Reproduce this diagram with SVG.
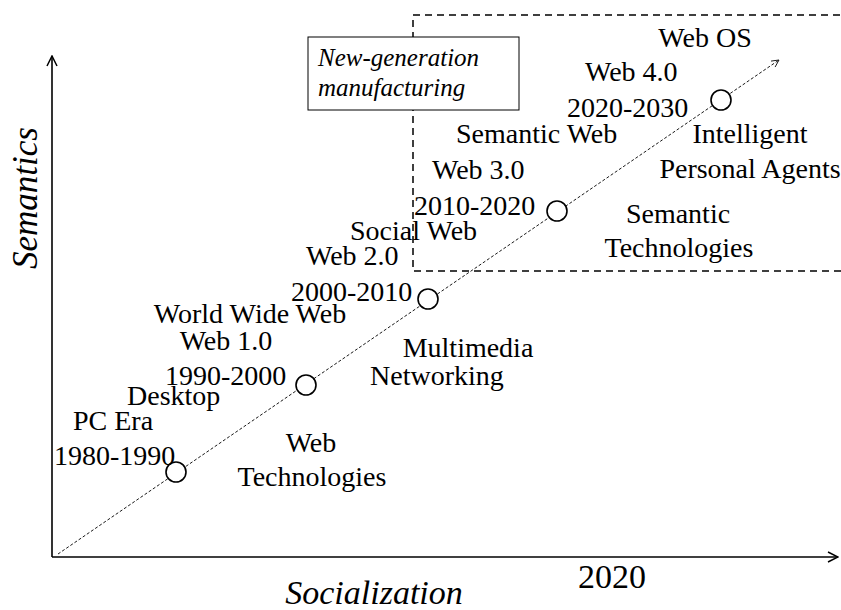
<svg xmlns="http://www.w3.org/2000/svg" width="841" height="610" viewBox="0 0 841 610">
<style>
text{font-family:"Liberation Serif","Times New Roman",serif;fill:#000;}
.t{font-size:28px;}
.it{font-style:italic;}
.ax{stroke:#000;stroke-width:1.6;fill:none;}
.node{fill:#fff;stroke:#000;stroke-width:1.6;}
</style>
<defs>
<marker id="ah" viewBox="0 0 12 12" refX="11" refY="6" markerWidth="12" markerHeight="12" markerUnits="userSpaceOnUse" orient="auto">
<path d="M1,1 L11,6 L1,11" fill="none" stroke="#000" stroke-width="1.5"/>
</marker>
<marker id="ahs" viewBox="0 0 10 10" refX="9" refY="5" markerWidth="9" markerHeight="9" markerUnits="userSpaceOnUse" orient="auto">
<path d="M1,1 L9,5 L1,9" fill="none" stroke="#000" stroke-width="0.9"/>
</marker>
</defs>
<rect width="841" height="610" fill="#fff"/>
<g id="region">
<rect x="413" y="15" width="440" height="256" fill="none" stroke="#000" stroke-width="1.5" stroke-dasharray="7,5"/>
</g>
<g id="axes">
<line class="ax" x1="52" y1="557" x2="52" y2="56" marker-end="url(#ah)"/>
<line class="ax" x1="52" y1="557" x2="838" y2="557" marker-end="url(#ah)"/>
<text x="37" y="198" transform="rotate(-90 37 198)" text-anchor="middle" class="it" font-size="35">Semantics</text>
<text x="374" y="604" text-anchor="middle" class="it" font-size="34">Socialization</text>
<text x="612" y="588" text-anchor="middle" font-size="34">2020</text>
</g>
<g id="connectors">
<line x1="58" y1="554" x2="779" y2="60" stroke="#000" stroke-width="0.9" stroke-dasharray="3,2" marker-end="url(#ahs)"/>
</g>
<g id="label-box">
<rect x="308" y="37" width="211" height="73" fill="#fff" stroke="#000" stroke-width="1"/>
<text x="318" y="66" class="it" font-size="25">New-generation</text>
<text x="318" y="96" class="it" font-size="25">manufacturing</text>
</g>
<g id="n1980">
<circle class="node" cx="176" cy="472" r="10"/>
<text x="54" y="465" class="t">1980-1990</text>
<text x="73" y="430" class="t">PC Era</text>
<text x="127" y="405" class="t">Desktop</text>
<text x="311" y="452" class="t" text-anchor="middle">Web</text>
<text x="312" y="486" class="t" text-anchor="middle">Technologies</text>
</g>
<g id="n1990">
<circle class="node" cx="306" cy="385" r="10"/>
<text x="165" y="385" class="t">1990-2000</text>
<text x="226" y="350" class="t" text-anchor="middle">Web 1.0</text>
<text x="250" y="323" class="t" text-anchor="middle">World Wide Web</text>
<text x="468" y="357" class="t" text-anchor="middle">Multimedia</text>
<text x="437" y="385" class="t" text-anchor="middle">Networking</text>
</g>
<g id="n2000">
<circle class="node" cx="428" cy="299" r="10"/>
<text x="291" y="301" class="t">2000-2010</text>
<text x="306" y="265" class="t">Web 2.0</text>
<text x="350" y="240" class="t">Social Web</text>
</g>
<g id="n2010">
<circle class="node" cx="557" cy="211" r="10"/>
<text x="414" y="215" class="t">2010-2020</text>
<text x="432" y="179" class="t">Web 3.0</text>
<text x="456" y="143" class="t">Semantic Web</text>
<text x="678" y="223" class="t" text-anchor="middle">Semantic</text>
<text x="679" y="257" class="t" text-anchor="middle">Technologies</text>
</g>
<g id="n2020">
<circle class="node" cx="721" cy="100" r="10"/>
<text x="567" y="117" class="t">2020-2030</text>
<text x="585" y="81" class="t">Web 4.0</text>
<text x="705" y="47" class="t" text-anchor="middle">Web OS</text>
<text x="750" y="143" class="t" text-anchor="middle">Intelligent</text>
<text x="750" y="178" class="t" text-anchor="middle">Personal Agents</text>
</g>
</svg>
